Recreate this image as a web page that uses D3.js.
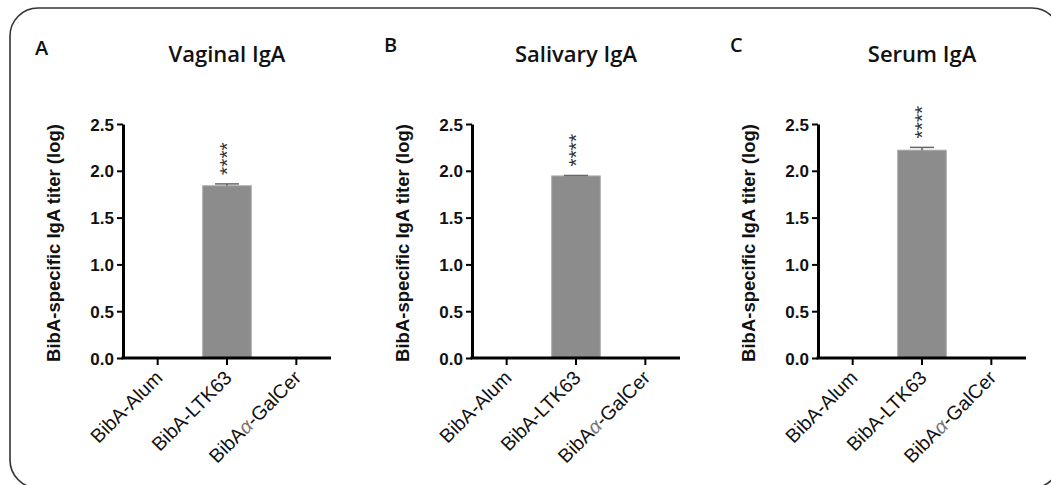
<!DOCTYPE html>
<html>
<head>
<meta charset="utf-8">
<script src="https://cdn.jsdelivr.net/npm/d3@7"></script>
<style>
body{margin:0;background:#fff;}
svg{display:block;}
</style>
</head>
<body>
<script>
// data
var groups = ["BibA-Alum", "BibA-LTK63", "BibA\u03b1-GalCer"];
var panelLetters = ["A", "B", "C"];
var panelTitles = ["Vaginal IgA", "Salivary IgA", "Serum IgA"];
var vaginal = [0, 1.84, 0];
var salivary = [0, 1.945, 0];
var serum = [0, 2.22, 0];
var vaginalErr = [0, 0.02, 0];
var salivaryErr = [0, 0.005, 0];
var serumErr = [0, 0.03, 0];
var sigLabels = ["", "****", ""];
var yTicks = [0, 0.5, 1, 1.5, 2, 2.5];

var W = 1051, H = 485;
var svg = d3.select("body").append("svg").attr("width", W).attr("height", H);

// frame around the figure (runs off the right and bottom)
svg.append("rect")
  .attr("x", 10).attr("y", 8)
  .attr("width", 1050).attr("height", 480)
  .attr("rx", 28).attr("ry", 28)
  .attr("fill", "none").attr("stroke", "#333").attr("stroke-width", 1.6);

var series = [vaginal, salivary, serum];
var errs = [vaginalErr, salivaryErr, serumErr];
var axisLeft = [123, 472, 818];
var axisWidth = 208;
var plotTop = 124, plotBottom = 358;

var y = d3.scaleLinear().domain([0, 2.5]).range([plotBottom, plotTop]);

series.forEach(function(vals, p) {
  var x0 = axisLeft[p];
  var x = d3.scaleBand().domain(groups).range([x0, x0 + axisWidth]).paddingInner(0.3).paddingOuter(0.15);
  var g = svg.append("g");

  // panel letter & title
  g.append("text").attr("x", x0 - 88).attr("y", p == 0 ? 55 : 52)
    .attr("font-family", "Open Sans, sans-serif").attr("font-weight", 600)
    .attr("font-size", 20).attr("fill", "#111").text(panelLetters[p]);
  g.append("text").attr("x", x0 + axisWidth / 2).attr("y", 62)
    .attr("text-anchor", "middle")
    .attr("font-family", "Open Sans, sans-serif").attr("font-weight", 600)
    .attr("font-size", 22).attr("fill", "#111").text(panelTitles[p]);

  // bars
  g.selectAll("rect.bar").data(vals).enter().append("rect")
    .attr("class", "bar")
    .attr("x", function(d, i) { return x(groups[i]); })
    .attr("width", x.bandwidth())
    .attr("y", function(d) { return y(d); })
    .attr("height", function(d) { return y(0) - y(d); })
    .attr("fill", "#8c8c8c").attr("stroke", "#a8a8a8").attr("stroke-width", 1);

  // error bars
  var e = errs[p];
  vals.forEach(function(d, i) {
    if (d <= 0) return;
    var cx = x(groups[i]) + x.bandwidth() / 2;
    g.append("line").attr("x1", cx).attr("x2", cx)
      .attr("y1", y(d)).attr("y2", y(d + e[i]))
      .attr("stroke", "#555").attr("stroke-width", 1.5);
    g.append("line").attr("x1", cx - 12).attr("x2", cx + 12)
      .attr("y1", y(d + e[i])).attr("y2", y(d + e[i]))
      .attr("stroke", "#666").attr("stroke-width", 1.5);
    g.append("text")
      .attr("transform", "translate(" + (cx + 7) + "," + (y(d + e[i]) - 9) + ") rotate(-90)")
      .attr("font-family", "Liberation Sans, Arial, sans-serif")
      .attr("font-size", 21).attr("fill", "#333")
      .text(sigLabels[i]);
  });

  // y axis
  var ya = g.append("g").attr("transform", "translate(" + x0 + ",0)")
    .call(d3.axisLeft(y).tickValues(yTicks).tickFormat(d3.format(".1f")).tickSize(6).tickSizeOuter(0));
  ya.select(".domain").attr("stroke", "#000").attr("stroke-width", 3);
  ya.selectAll(".tick line").attr("stroke", "#000").attr("stroke-width", 2);
  ya.selectAll(".tick text")
    .attr("font-family", "Liberation Sans, Arial, sans-serif")
    .attr("font-weight", "bold").attr("font-size", 17).attr("fill", "#111")
    .attr("x", -9).attr("dy", "0.36em");

  // x axis
  var xa = g.append("g").attr("transform", "translate(0," + plotBottom + ")")
    .call(d3.axisBottom(x).tickSize(7).tickSizeOuter(0).tickFormat(""));
  xa.select(".domain").attr("stroke", "#000").attr("stroke-width", 3)
    .attr("d", "M" + (x0 - 1.5) + ",0H" + (x0 + axisWidth));
  xa.selectAll(".tick line").attr("stroke", "#000").attr("stroke-width", 2);
  xa.selectAll(".tick").append("text")
    .attr("transform", "translate(6,21) rotate(-45)")
    .attr("text-anchor", "end")
    .attr("font-family", "Liberation Sans, Arial, sans-serif")
    .attr("font-size", 19.5).attr("fill", "#111")
    .each(function(d) {
      var t = d3.select(this);
      if (d.indexOf("\u03b1") >= 0) {
        var parts = d.split("\u03b1");
        t.append("tspan").text(parts[0]);
        t.append("tspan").attr("font-style", "italic").attr("fill", "#777").text("\u03b1");
        t.append("tspan").text(parts[1]);
      } else {
        t.text(d);
      }
    });

  // y axis title
  g.append("text")
    .attr("transform", "translate(" + (x0 - 63) + "," + ((plotTop + plotBottom) / 2 + 2) + ") rotate(-90)")
    .attr("text-anchor", "middle")
    .attr("font-family", "Liberation Sans, Arial, sans-serif")
    .attr("font-weight", "bold").attr("font-size", 18.5).attr("fill", "#111")
    .text("BibA-specific IgA titer (log)");
});
</script>
</body>
</html>
